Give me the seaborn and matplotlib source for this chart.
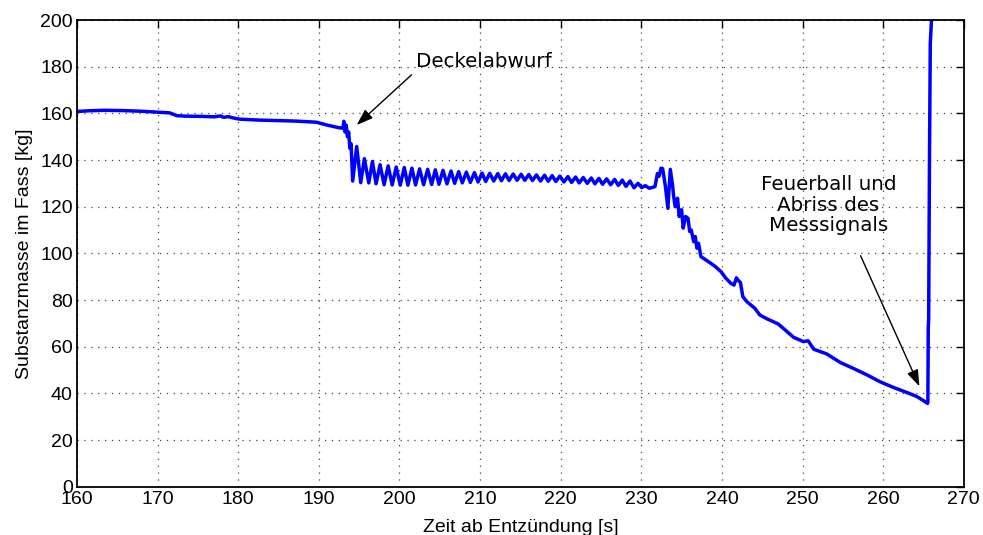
import numpy as np
import pandas as pd
import matplotlib
matplotlib.use("Agg")
import matplotlib.pyplot as plt
import seaborn as sns

# Mass of substance in the drum over time after ignition
time_pre = [160.0, 161.5, 163.3, 165.5, 168.0, 170.0, 171.5, 172.4, 173.5, 175.5,
            177.0, 177.8, 178.2, 178.8, 179.3, 180.2, 182.7, 185.0, 187.0, 189.7,
            191.0, 192.4, 193.0, 193.1, 193.25, 193.4, 193.55, 193.7, 193.85, 194.0,
            194.2]
mass_pre = [160.8, 161.1, 161.3, 161.2, 160.9, 160.5, 160.2, 159.0, 158.8, 158.7,
            158.5, 158.9, 158.3, 158.6, 158.1, 157.5, 157.1, 156.9, 156.7, 156.2,
            155.0, 153.9, 153.6, 156.6, 152.0, 155.0, 150.0, 152.0, 145.0, 147.0,
            131.0]

# lid ejection: swinging of the load cell (peak / trough pairs)
time_osc = [194.7, 195.2, 195.65, 196.2, 196.65, 197.1, 197.6, 198.1, 198.6, 199.1,
            199.6, 200.1, 200.6, 201.05, 201.55, 202.0, 202.5, 203.0, 203.5, 204.0,
            204.45, 204.9, 205.4, 205.9, 206.4, 206.85, 207.35, 207.8, 208.3, 208.8,
            209.3, 209.75, 210.25, 210.7, 211.2, 211.7, 212.2, 212.65, 213.15, 213.6,
            214.1, 214.6, 215.1, 215.55, 216.05, 216.5, 217.0, 217.5, 218.0, 218.45,
            218.95, 219.4, 219.9, 220.4, 220.9, 221.35, 221.85, 222.3, 222.8, 223.3,
            223.8, 224.25, 224.75, 225.2, 225.7, 226.2, 226.7, 227.15, 227.65, 228.1,
            228.6, 229.1, 229.6, 230.05]
mass_osc = [145.8, 130.3, 140.6, 130.2, 139.4, 129.8, 138.0, 129.4, 137.5, 129.3,
            137.0, 129.2, 136.8, 129.2, 136.5, 129.3, 136.2, 129.4, 136.0, 129.5,
            135.8, 129.6, 135.6, 129.8, 135.3, 130.0, 135.0, 130.2, 134.8, 130.4,
            134.6, 130.6, 134.4, 130.8, 134.3, 131.0, 134.2, 131.1, 134.1, 131.2,
            134.0, 131.3, 133.9, 131.3, 133.8, 131.2, 133.6, 131.0, 133.5, 130.9,
            133.3, 130.8, 133.1, 130.6, 132.9, 130.4, 132.7, 130.2, 132.5, 130.0,
            132.3, 129.8, 132.1, 129.6, 131.9, 129.4, 131.7, 129.1, 131.4, 128.7,
            131.0, 128.1, 130.0, 128.2]

time_post = [230.5, 231.0, 231.4, 231.7, 232.0, 232.2, 232.45, 232.65, 233.0, 233.3,
             233.6, 233.9, 234.0, 234.2, 234.5, 234.7, 235.0, 235.2, 235.5, 235.8,
             236.0, 236.2, 236.5, 236.7, 236.9, 237.1, 237.4, 238.0, 238.6, 239.2,
             239.9, 240.5, 241.1, 241.5, 241.8, 242.0, 242.3, 242.6, 243.1, 244.1,
             244.7, 245.5, 247.0, 247.6, 248.9, 250.1, 250.7, 251.4, 253.0, 254.7,
             256.3, 258.0, 259.6, 261.3, 263.0, 264.2, 265.0, 265.5, 265.55, 265.6,
             265.65, 265.75, 265.85, 266.0]
mass_post = [129.0, 127.9, 128.3, 128.6, 134.2, 133.0, 136.5, 136.3, 128.6, 119.3,
             136.0, 128.6, 125.0, 120.0, 123.6, 115.8, 118.7, 110.8, 115.8, 115.0,
             109.4, 110.0, 105.0, 107.2, 102.2, 104.3, 98.6, 97.2, 95.8, 94.3,
             92.1, 89.3, 87.2, 86.4, 89.5, 88.5, 87.5, 81.4, 79.3, 76.4,
             73.6, 72.1, 69.7, 67.9, 64.0, 62.2, 62.5, 58.9, 56.9, 53.2,
             50.7, 47.9, 45.0, 42.5, 40.3, 38.6, 36.9, 35.7, 36.0, 68.0,
             72.0, 140.0, 190.0, 200.0]

x_ticks = [160, 170, 180, 190, 200, 210, 220, 230, 240, 250, 260, 270]
y_ticks = [0, 20, 40, 60, 80, 100, 120, 140, 160, 180, 200]

df = pd.DataFrame({
    "t": time_pre + time_osc + time_post,
    "m": mass_pre + mass_osc + mass_post,
})

sns.set_style("white")
plt.rcParams["font.family"] = ["Liberation Sans", "DejaVu Sans"]
plt.rcParams["text.color"] = "black"
plt.rcParams["axes.labelcolor"] = "black"

fig = plt.figure(figsize=(9.83, 5.35), dpi=100)
ax = fig.add_axes([0.0783, 0.0903, 0.9021, 0.8723])

sns.lineplot(data=df, x="t", y="m", sort=False, estimator=None,
             color="#0000ff", linewidth=2.5, ax=ax)

ax.set_xlim(160, 270)
ax.set_ylim(0, 200)
ax.set_xticks(x_ticks)
ax.set_yticks(y_ticks)
ax.grid(True, color="#444444", linestyle=(0, (1, 4.5)), linewidth=0.9)
ax.tick_params(direction="in", length=6, width=1, top=True, right=True,
               labelsize=14, colors="black", labelcolor="black", pad=3)
for side in ax.spines.values():
    side.set_color("black")
    side.set_linewidth(1.3)

ax.set_xlabel("Zeit ab Entzündung [s]", fontsize=14, labelpad=8, color="black")
ax.set_ylabel("Substanzmasse im Fass [kg]", fontsize=14, labelpad=5, color="black")

arrow = dict(arrowstyle="-|>,head_length=1.0,head_width=0.35", color="black",
             lw=1.0, shrinkA=0, shrinkB=0)
ax.text(210.5, 182.2, "Deckelabwurf", ha="center", va="center",
        fontsize=14.3, family="DejaVu Sans", color="black")
ax.annotate("", xy=(194.7, 155.0), xytext=(201.5, 176.5), arrowprops=arrow)
ax.text(253.2, 120.7, "Feuerball und\nAbriss des\nMesssignals", ha="center",
        va="center", fontsize=14.3, family="DejaVu Sans", linespacing=1.1,
        color="black")
ax.annotate("", xy=(264.5, 43.0), xytext=(257.2, 99.0), arrowprops=arrow)

fig.savefig("out.png", dpi=100)
